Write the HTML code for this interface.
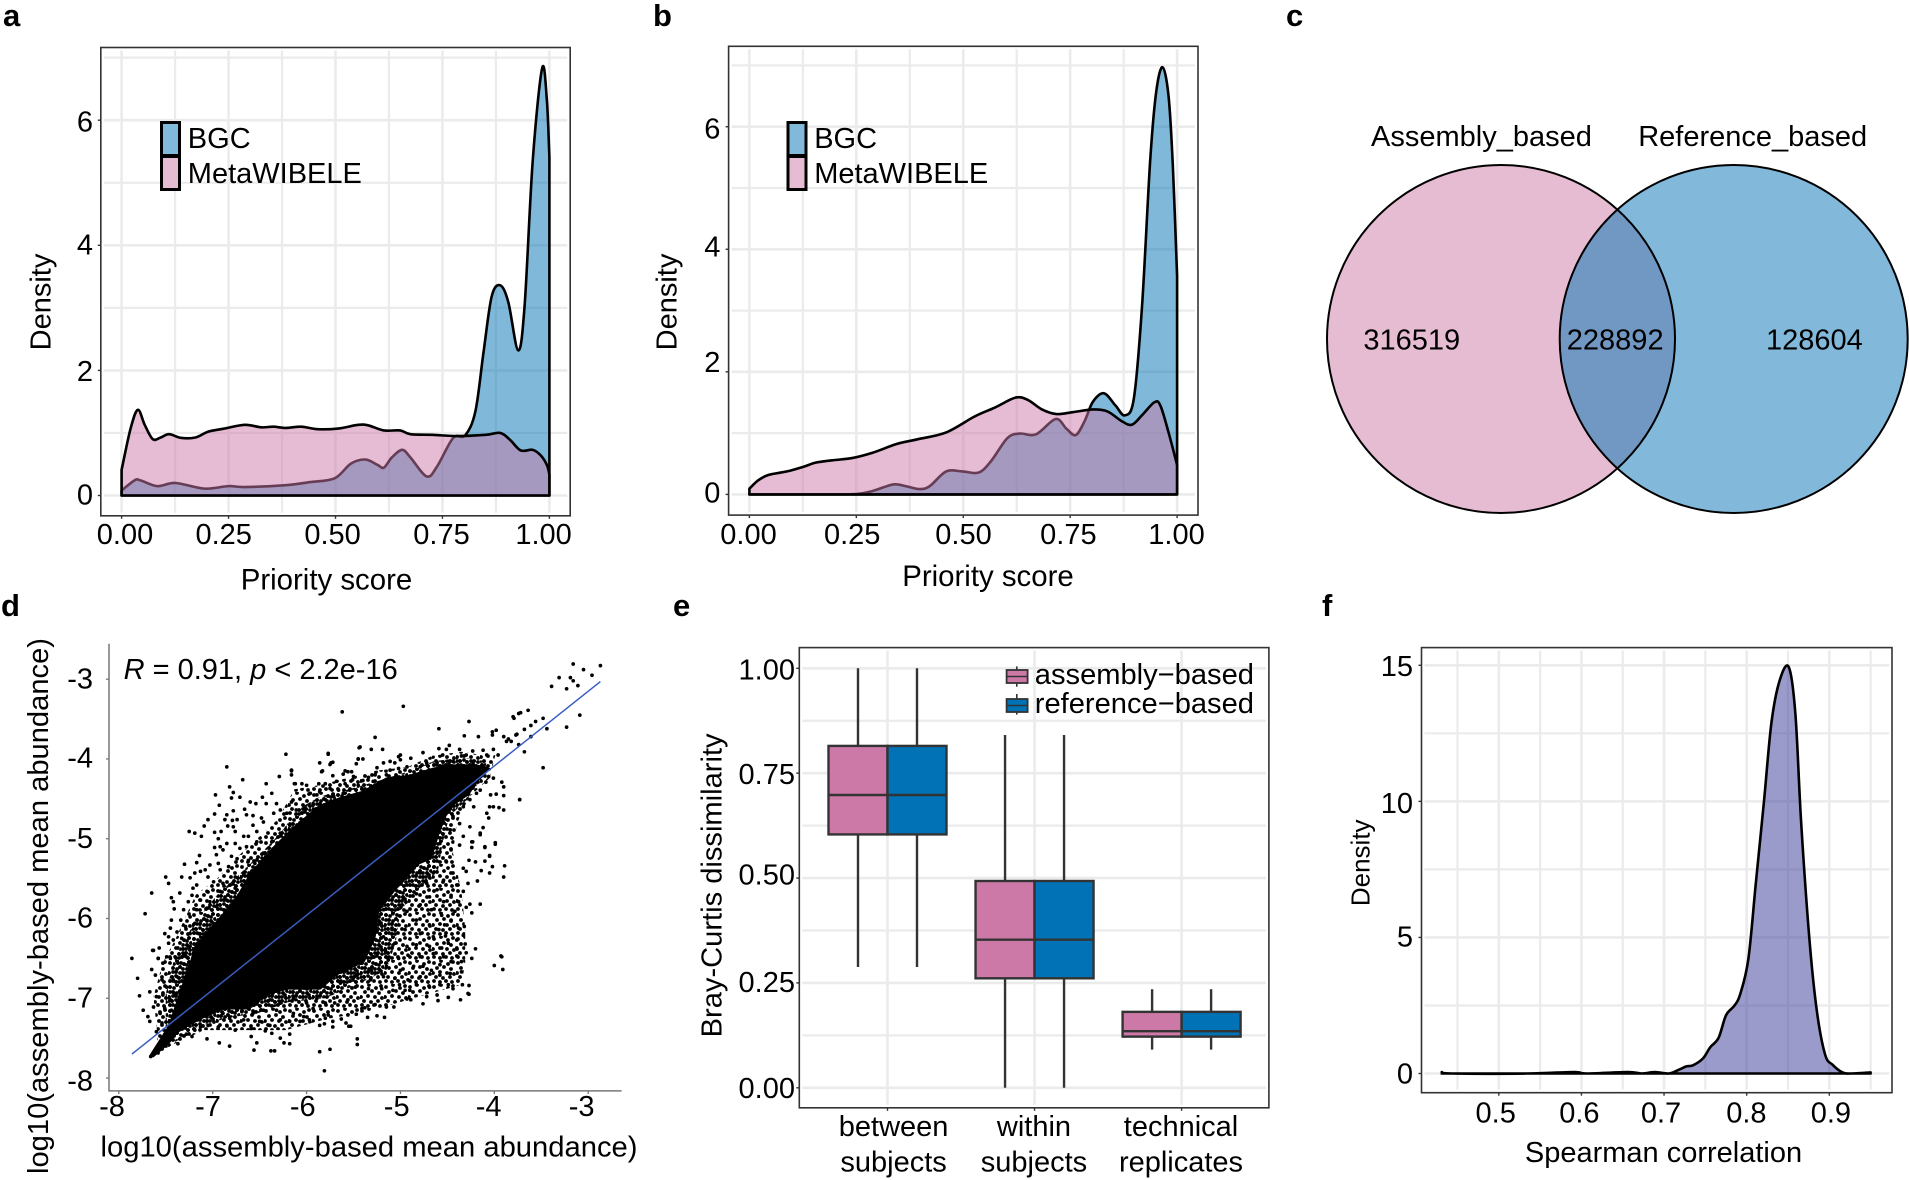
<!DOCTYPE html>
<html lang="en">
<head>
<meta charset="utf-8">
<title>Priority score, overlap and abundance figure</title>
<style>
  html,body{margin:0;padding:0;background:#fff;}
  #figure{display:block;width:1909px;height:1180px;}
  text{font-family:"Liberation Sans",sans-serif;fill:#000;font-size:29px;}
  .tag{font-weight:bold;font-size:31px;}
  .mid{text-anchor:middle;}
  .end{text-anchor:end;}
</style>
</head>
<body>
<svg id="figure" xmlns="http://www.w3.org/2000/svg" width="1909" height="1180" viewBox="0 0 1909 1180">
  <rect x="0" y="0" width="1909" height="1180" fill="#fff"/>
  <defs>
    <clipPath id="venn-clip"><ellipse cx="1501" cy="339" rx="174" ry="174"/></clipPath>
    <pattern id="speckle-sparse" patternUnits="userSpaceOnUse" width="24" height="24">
      <g fill="#000">
        <circle cx="2" cy="3" r="1.9"/><circle cx="9" cy="1" r="1.9"/><circle cx="16" cy="4" r="1.9"/><circle cx="21" cy="2" r="1.9"/><circle cx="5" cy="8" r="1.9"/><circle cx="12" cy="7" r="1.9"/><circle cx="19" cy="9" r="1.9"/><circle cx="1" cy="13" r="1.9"/><circle cx="8" cy="12" r="1.9"/><circle cx="15" cy="13" r="1.9"/><circle cx="22" cy="14" r="1.9"/><circle cx="4" cy="17" r="1.9"/><circle cx="11" cy="18" r="1.9"/><circle cx="18" cy="17" r="1.9"/><circle cx="2" cy="21" r="1.9"/><circle cx="8" cy="22" r="1.9"/><circle cx="14" cy="21" r="1.9"/><circle cx="20" cy="22" r="1.9"/>
      </g>
    </pattern>
    <pattern id="speckle-dense" patternUnits="userSpaceOnUse" width="24" height="24">
      <g fill="#000">
        <circle cx="2" cy="3" r="1.9"/><circle cx="9" cy="1" r="1.9"/><circle cx="16" cy="4" r="1.9"/><circle cx="21" cy="2" r="1.9"/><circle cx="5" cy="8" r="1.9"/><circle cx="12" cy="7" r="1.9"/><circle cx="19" cy="9" r="1.9"/><circle cx="1" cy="13" r="1.9"/><circle cx="8" cy="12" r="1.9"/><circle cx="15" cy="13" r="1.9"/><circle cx="22" cy="14" r="1.9"/><circle cx="4" cy="17" r="1.9"/><circle cx="11" cy="18" r="1.9"/><circle cx="18" cy="17" r="1.9"/><circle cx="2" cy="21" r="1.9"/><circle cx="8" cy="22" r="1.9"/><circle cx="14" cy="21" r="1.9"/><circle cx="20" cy="22" r="1.9"/>
        <circle cx="6" cy="4" r="1.9"/><circle cx="13" cy="3" r="1.9"/><circle cx="19" cy="5" r="1.9"/><circle cx="23" cy="7" r="1.9"/><circle cx="2" cy="8" r="1.9"/><circle cx="9" cy="9" r="1.9"/><circle cx="15" cy="9" r="1.9"/><circle cx="21" cy="11" r="1.9"/><circle cx="5" cy="12" r="1.9"/><circle cx="12" cy="13" r="1.9"/><circle cx="18" cy="13" r="1.9"/><circle cx="1" cy="17" r="1.9"/><circle cx="8" cy="16" r="1.9"/><circle cx="15" cy="17" r="1.9"/><circle cx="22" cy="18" r="1.9"/><circle cx="5" cy="21" r="1.9"/><circle cx="11" cy="22" r="1.9"/><circle cx="17" cy="20" r="1.9"/>
      </g>
    </pattern>
  </defs>

  <g id="panel-a"></g>
  <g id="panel-b"></g>
  <g id="panel-d"></g>
  <g id="panel-e"></g>
  <g id="panel-f"></g>

  <!-- panel tags -->
  <text class="tag" x="3" y="26">a</text>
  <text class="tag" x="653" y="26">b</text>
  <text class="tag" x="1286" y="26">c</text>
  <text class="tag" x="1" y="616">d</text>
  <text class="tag" x="673" y="616">e</text>
  <text class="tag" x="1322" y="616">f</text>

  <!-- panel a text -->
  <g>
    <text class="mid" x="125" y="544">0.00</text>
    <text class="mid" x="223.7" y="544">0.25</text>
    <text class="mid" x="332.6" y="544">0.50</text>
    <text class="mid" x="441.5" y="544">0.75</text>
    <text class="mid" x="543.6" y="544">1.00</text>
    <text class="end" x="93" y="131.3">6</text>
    <text class="end" x="93" y="254.5">4</text>
    <text class="end" x="93" y="380.8">2</text>
    <text class="end" x="93" y="504.4">0</text>
    <text class="mid" x="326.5" y="589.5" style="font-size:29.4px">Priority score</text>
    <text class="mid" transform="translate(50.5 302) rotate(-90)">Density</text>
    <rect x="161.5" y="122.5" width="18" height="33" fill="#80b9da" stroke="#000" stroke-width="3"/>
    <rect x="161.5" y="156.5" width="18" height="33" fill="#e6bcd3" stroke="#000" stroke-width="3"/>
    <text x="187.8" y="148">BGC</text>
    <text x="187.8" y="183">MetaWIBELE</text>
  </g>

  <!-- panel b text -->
  <g>
    <text class="mid" x="748.5" y="544">0.00</text>
    <text class="mid" x="852.2" y="544">0.25</text>
    <text class="mid" x="963.5" y="544">0.50</text>
    <text class="mid" x="1068.4" y="544">0.75</text>
    <text class="mid" x="1176.5" y="544">1.00</text>
    <text class="end" x="720.4" y="138.5">6</text>
    <text class="end" x="720.4" y="256.4">4</text>
    <text class="end" x="720.4" y="372">2</text>
    <text class="end" x="720.4" y="502.5">0</text>
    <text class="mid" x="988" y="586" style="font-size:29.4px">Priority score</text>
    <text class="mid" transform="translate(676.7 302) rotate(-90)">Density</text>
    <rect x="788" y="122.5" width="18" height="33" fill="#80b9da" stroke="#000" stroke-width="3"/>
    <rect x="788" y="156.5" width="18" height="33" fill="#e6bcd3" stroke="#000" stroke-width="3"/>
    <text x="814.2" y="148">BGC</text>
    <text x="814.2" y="183">MetaWIBELE</text>
  </g>

  <!-- panel c: venn -->
  <g>
    <ellipse cx="1501" cy="339" rx="174" ry="174" fill="#e6bcd3"/>
    <ellipse cx="1733.7" cy="339" rx="174" ry="174" fill="#82b8da"/>
    <ellipse cx="1733.7" cy="339" rx="174" ry="174" fill="#7197c3" clip-path="url(#venn-clip)"/>
    <ellipse cx="1501" cy="339" rx="174" ry="174" fill="none" stroke="#000" stroke-width="2"/>
    <ellipse cx="1733.7" cy="339" rx="174" ry="174" fill="none" stroke="#000" stroke-width="2"/>
    <text x="1371" y="146.2">Assembly_based</text>
    <text x="1638.2" y="146.2">Reference_based</text>
    <text x="1363.4" y="349.4">316519</text>
    <text x="1566.8" y="349.4">228892</text>
    <text x="1766" y="349.4">128604</text>
  </g>

  <!-- panel d text -->
  <g>
    <text class="mid" x="112" y="1116">-8</text>
    <text class="mid" x="208" y="1116">-7</text>
    <text class="mid" x="302.8" y="1116">-6</text>
    <text class="mid" x="396.7" y="1116">-5</text>
    <text class="mid" x="488.6" y="1116">-4</text>
    <text class="mid" x="581.6" y="1116">-3</text>
    <text class="end" x="93" y="688.6">-3</text>
    <text class="end" x="93" y="767.6">-4</text>
    <text class="end" x="93" y="847.8">-5</text>
    <text class="end" x="93" y="927.5">-6</text>
    <text class="end" x="93" y="1007.7">-7</text>
    <text class="end" x="93" y="1090.5">-8</text>
    <text x="100.5" y="1156.3" textLength="537" lengthAdjust="spacingAndGlyphs">log10(assembly-based mean abundance)</text>
    <text transform="translate(48 1174) rotate(-90)" textLength="536" lengthAdjust="spacingAndGlyphs">log10(assembly-based mean abundance)</text>
    <text x="123.6" y="679"><tspan font-style="italic">R</tspan> = 0.91, <tspan font-style="italic">p</tspan> &lt; 2.2e-16</text>
  </g>

  <!-- panel e text -->
  <g>
    <text class="end" x="795" y="679.6">1.00</text>
    <text class="end" x="795" y="783.8">0.75</text>
    <text class="end" x="795" y="884.3">0.50</text>
    <text class="end" x="795" y="991.9">0.25</text>
    <text class="end" x="795" y="1098">0.00</text>
    <text class="mid" x="893.6" y="1136">between</text>
    <text class="mid" x="893.6" y="1171.4">subjects</text>
    <text class="mid" x="1034" y="1136">within</text>
    <text class="mid" x="1034" y="1171.4">subjects</text>
    <text class="mid" x="1181" y="1136">technical</text>
    <text class="mid" x="1181" y="1171.4">replicates</text>
    <text class="mid" transform="translate(721.4 885.4) rotate(-90)" textLength="304" lengthAdjust="spacingAndGlyphs">Bray-Curtis dissimilarity</text>
  </g>

  <!-- panel f text -->
  <g>
    <text class="mid" x="1495.7" y="1122.5">0.5</text>
    <text class="mid" x="1579.4" y="1122.5">0.6</text>
    <text class="mid" x="1661" y="1122.5">0.7</text>
    <text class="mid" x="1746.4" y="1122.5">0.8</text>
    <text class="mid" x="1830.9" y="1122.5">0.9</text>
    <text class="end" x="1413" y="675.8">15</text>
    <text class="end" x="1413" y="812.8">10</text>
    <text class="end" x="1413" y="946.4">5</text>
    <text class="end" x="1413" y="1083.7">0</text>
    <text class="mid" x="1663.5" y="1162">Spearman correlation</text>
    <text class="mid" transform="translate(1369.5 862.8) rotate(-90)" style="font-size:26px">Density</text>
  </g>
</svg>

<script>
// ---------- panel a data ----------
var aBgcX=[0,.031,.045,.083,.126,.193,.25,.288,.384,.441,.498,.536,.57,.598,.613,.632,.656,.675,.713,.737,.775,.803,.827,.846,.865,.885,.904,.927,.942,.961,.983,.994,1];
var aBgcY=[.08,.245,.24,.15,.2,.11,.15,.135,.165,.215,.275,.51,.575,.49,.445,.61,.73,.61,.305,.46,.92,.96,1.345,2.29,3.18,3.36,3.09,2.32,3.03,5.35,6.83,6.33,5.41];
var aMetaX=[0,.021,.038,.054,.073,.092,.111,.14,.174,.202,.24,.288,.326,.355,.384,.42,.458,.506,.553,.577,.613,.651,.675,.727,.784,.851,.885,.908,.933,.961,.98,.994,1];
var aMetaY=[.41,1.07,1.37,1.13,.9,.93,.98,.92,.93,1.02,1.07,1.13,1.09,1.1,1.08,1.1,1.06,1.07,1.13,1.12,1.04,1.04,.98,.97,.95,.97,1,.89,.72,.73,.64,.49,.34];
// ---------- panel b data ----------
var bBgcX=[0,.174,.25,.288,.336,.364,.398,.422,.46,.498,.536,.565,.603,.632,.67,.716,.741,.763,.784,.803,.829,.856,.878,.899,.918,.937,.951,.966,.98,.99,1];
var bBgcY=[0,0,.006,.056,.162,.137,.087,.137,.375,.375,.356,.543,.918,.993,.98,1.23,1.074,.968,1.2,1.51,1.65,1.45,1.29,1.57,3.07,5.44,6.56,6.97,6.5,5.37,3.56];
var bMetaX=[0,.021,.045,.088,.126,.155,.193,.24,.288,.345,.393,.46,.527,.574,.622,.651,.684,.718,.756,.803,.837,.87,.894,.918,.947,.961,.98,1];
var bMetaY=[.094,.231,.318,.375,.45,.518,.556,.593,.68,.824,.899,1.011,1.273,1.417,1.579,1.542,1.386,1.311,1.342,1.386,1.354,1.198,1.136,1.292,1.504,1.448,1.011,.481];
// ---------- shared density axis ticks ----------
var densityMajorTicks=[0,2,4,6];
var densityMinorTicks=[1,3,5,7];
var scoreMajorTicks=[0,.25,.5,.75,1];
var scoreMinorTicks=[.125,.375,.625,.875];
// ---------- panel d data ----------
var dXTicks=[-8,-7,-6,-5,-4,-3];
var dYTicks=[-8,-7,-6,-5,-4,-3];
var fitLineX=[-7.86,-2.87];
var fitLineY=[-7.70,-3.03];
var sparseBandOutline=[[-7.59,-7.45],[-7.63,-6.98],[-7.53,-6.55],[-7.40,-6.27],[-7.31,-6.03],[-7.18,-5.70],[-6.96,-5.51],[-6.74,-5.23],[-6.48,-4.95],[-6.31,-4.76],[-6.13,-4.38],[-5.87,-4.33],[-5.57,-4.24],[-5.27,-4.15],[-4.92,-4.10],[-4.66,-3.96],[-4.35,-3.91],[-4.09,-3.96],[-3.98,-3.91],[-4.05,-4.24],[-4.27,-4.48],[-4.40,-4.81],[-4.44,-5.18],[-4.35,-5.66],[-4.31,-6.13],[-4.31,-6.55],[-4.35,-6.83],[-4.92,-7.02],[-5.35,-7.17],[-5.79,-7.26],[-6.22,-7.40],[-6.66,-7.40],[-7.09,-7.40],[-7.44,-7.59],[-7.59,-7.73]];
var denseBandOutline=[[-7.50,-7.40],[-7.50,-6.95],[-7.42,-6.55],[-7.30,-6.25],[-7.12,-5.95],[-6.95,-5.70],[-6.72,-5.45],[-6.50,-5.20],[-6.28,-4.93],[-6.08,-4.62],[-5.85,-4.47],[-5.55,-4.38],[-5.25,-4.28],[-4.95,-4.17],[-4.65,-4.03],[-4.35,-3.98],[-4.08,-4.03],[-4.12,-4.22],[-4.30,-4.52],[-4.48,-4.72],[-4.55,-5.05],[-4.60,-5.40],[-4.78,-5.60],[-5.00,-5.90],[-5.05,-6.30],[-5.15,-6.65],[-5.45,-6.82],[-5.80,-7.00],[-6.20,-7.05],[-6.50,-7.18],[-6.85,-7.25],[-7.15,-7.35],[-7.40,-7.55]];
var denseCoreOutline=[[-7.64,-7.71],[-7.45,-7.36],[-7.32,-6.90],[-7.21,-6.52],[-7.17,-6.36],[-6.92,-6.02],[-6.74,-5.77],[-6.57,-5.43],[-6.32,-5.10],[-6.10,-4.85],[-5.86,-4.61],[-5.64,-4.51],[-5.40,-4.43],[-5.14,-4.26],[-4.90,-4.23],[-4.65,-4.14],[-4.44,-4.10],[-4.19,-4.10],[-4.08,-4.13],[-4.19,-4.26],[-4.29,-4.43],[-4.44,-4.55],[-4.55,-4.73],[-4.61,-4.93],[-4.69,-5.23],[-4.82,-5.30],[-5.08,-5.64],[-5.25,-5.89],[-5.29,-6.23],[-5.40,-6.52],[-5.68,-6.68],[-5.86,-6.86],[-6.21,-6.86],[-6.42,-6.93],[-6.63,-7.11],[-6.89,-7.11],[-7.14,-7.24],[-7.38,-7.40],[-7.49,-7.56]];
var upperLeftPoints=[[-6.85,-4.10],[-6.29,-4.22],[-6.16,-4.14],[-6.16,-4.20],[-6.68,-4.26],[-6.82,-4.35],[-6.78,-4.42],[-6.97,-4.45],[-6.80,-4.49],[-6.71,-4.48],[-6.47,-4.48],[-6.43,-4.31],[-6.37,-4.43],[-6.12,-4.31],[-6.05,-4.31],[-6.93,-4.58],[-6.60,-4.54],[-6.66,-4.63],[-6.54,-4.56],[-6.43,-4.56],[-6.32,-4.56],[-6.16,-4.54],[-6.78,-4.65],[-6.98,-4.69],[-7.05,-4.76],[-6.85,-4.70],[-6.87,-4.76],[-7.09,-4.84],[-6.79,-4.77],[-6.74,-4.76],[-6.64,-4.70],[-6.57,-4.71],[-6.48,-4.74],[-6.35,-4.68],[-6.28,-4.64],[-6.21,-4.68],[-6.84,-4.84],[-6.78,-4.85],[-7.25,-4.91],[-7.19,-4.93],[-6.98,-4.92],[-6.91,-4.91],[-6.76,-4.91],[-7.12,-4.97],[-6.94,-5.00],[-6.67,-4.97],[-6.62,-4.97],[-6.57,-4.83],[-6.46,-4.79],[-6.53,-4.91],[-6.76,-5.06],[-6.85,-5.06],[-6.92,-5.10],[-6.98,-5.11],[-7.14,-5.21],[-6.89,-5.14],[-6.71,-5.12],[-6.64,-5.10],[-6.53,-5.04],[-6.96,-5.20],[-6.80,-5.22],[-7.17,-5.30],[-7.30,-5.32],[-7.03,-5.33],[-6.94,-5.31],[-6.74,-5.25],[-6.62,-5.27],[-7.13,-5.41],[-7.19,-5.43],[-7.08,-5.39],[-6.92,-5.39],[-6.83,-5.35],[-7.50,-5.48],[-7.33,-5.48],[-7.24,-5.49],[-7.05,-5.48],[-6.76,-5.48],[-7.47,-5.56],[-7.17,-5.58],[-6.99,-5.54],[-6.89,-5.56],[-7.65,-5.68],[-7.35,-5.68],[-7.21,-5.62],[-7.06,-5.66],[-6.92,-5.66],[-7.44,-5.74],[-7.42,-5.79],[-7.22,-5.71],[-7.13,-5.77],[-7.03,-5.79],[-7.41,-5.88],[-7.26,-5.79],[-7.31,-5.89],[-7.72,-5.94],[-7.17,-5.89],[-7.06,-5.87],[-7.34,-6.02],[-7.24,-5.98],[-7.44,-6.02],[-7.45,-6.12],[-7.29,-6.10],[-7.19,-6.06],[-7.51,-6.19],[-7.38,-6.17],[-7.24,-6.19],[-7.47,-6.23],[-7.33,-6.25],[-7.42,-6.27],[-7.57,-6.37],[-7.64,-6.40],[-7.47,-6.31],[-7.37,-6.37],[-7.86,-6.50],[-7.58,-6.50],[-7.49,-6.48],[-7.40,-6.48],[-5.96,-4.43],[-5.93,-4.56],[-6.02,-4.62],[-5.89,-4.45],[-5.95,-4.70],[-6.11,-4.64],[-6.05,-4.77],[-6.18,-4.83],[-6.28,-4.93],[-6.37,-5.04],[-6.46,-5.18],[-6.55,-5.31],[-6.67,-5.45],[-6.76,-5.62],[-6.85,-5.77],[-6.96,-5.85],[-7.06,-6.02],[-7.15,-6.19],[-7.24,-6.35],[-7.28,-6.48]];
var lowerLeftPoints=[[-7.80,-6.75],[-7.78,-6.97],[-7.74,-7.15],[-7.69,-7.23],[-7.67,-7.29],[-7.63,-6.40],[-7.58,-6.50],[-7.65,-6.64],[-7.61,-6.71],[-7.53,-6.56],[-7.45,-6.50],[-7.54,-6.77],[-7.67,-6.92],[-7.60,-6.98],[-7.63,-7.11],[-7.56,-7.19],[-7.49,-6.86],[-7.42,-6.77],[-7.53,-6.96],[-7.45,-7.02],[-7.38,-6.73],[-7.40,-6.94],[-7.51,-7.13],[-7.44,-7.15],[-7.54,-7.31],[-7.60,-7.42],[-7.37,-6.56],[-7.31,-6.46],[-7.66,-7.73],[-7.60,-7.67],[-7.54,-7.63],[-7.49,-7.54],[-7.45,-7.48],[-7.37,-7.57],[-7.28,-7.45],[-7.22,-7.48],[-7.06,-7.51],[-6.93,-7.56],[-6.82,-7.60],[-7.05,-7.34],[-6.94,-7.36],[-6.85,-7.34],[-6.76,-7.40],[-7.13,-7.36],[-7.19,-7.40],[-6.59,-7.48],[-6.53,-7.56],[-6.56,-7.65],[-6.38,-7.66],[-6.34,-7.66],[-6.28,-7.50],[-6.24,-7.56],[-6.18,-7.57],[-6.18,-7.45],[-6.37,-7.44],[-6.44,-7.41],[-6.67,-7.27],[-6.59,-7.38],[-6.82,-7.25],[-6.69,-7.17],[-6.89,-7.19],[-6.50,-7.29],[-6.39,-7.34],[-6.28,-7.27],[-6.18,-7.29],[-6.07,-7.29],[-6.03,-7.23],[-5.97,-7.27],[-5.86,-7.34],[-5.86,-7.67],[-6.14,-7.19],[-6.32,-7.15],[-6.46,-7.15],[-6.57,-7.19],[-5.93,-7.13],[-6.00,-7.06],[-6.14,-7.00],[-6.28,-7.06],[-6.39,-7.02],[-5.89,-7.00],[-5.81,-7.91],[-5.75,-7.64],[-5.46,-7.51],[-5.46,-7.58],[-5.55,-7.35]];
var lowerRightPoints=[[-4.15,-4.95],[-3.99,-5.07],[-4.10,-5.11],[-4.23,-5.04],[-4.24,-5.11],[-4.05,-5.21],[-4.27,-5.27],[-4.20,-5.29],[-4.10,-5.28],[-3.89,-5.34],[-4.02,-5.35],[-4.14,-5.40],[-4.05,-5.43],[-3.90,-5.48],[-4.18,-5.53],[-4.30,-5.41],[-4.33,-5.37],[-4.28,-5.56],[-4.44,-5.43],[-4.51,-5.29],[-4.46,-5.14],[-4.37,-5.08],[-4.58,-5.06],[-4.61,-5.18],[-4.54,-5.52],[-4.40,-5.58],[-4.65,-5.43],[-4.33,-5.66],[-4.46,-5.71],[-4.61,-5.64],[-4.72,-5.56],[-4.79,-5.43],[-4.26,-5.82],[-4.15,-5.82],[-4.30,-5.86],[-4.24,-5.93],[-4.38,-5.79],[-4.54,-5.79],[-4.69,-5.73],[-4.83,-5.69],[-4.93,-5.58],[-4.42,-5.91],[-4.56,-5.96],[-4.67,-5.89],[-4.79,-5.83],[-4.97,-5.75],[-5.09,-5.66],[-4.46,-6.02],[-4.53,-6.08],[-4.32,-6.10],[-4.38,-6.12],[-4.69,-6.08],[-4.83,-6.02],[-4.93,-5.91],[-5.08,-5.94],[-5.18,-5.89],[-4.59,-6.14],[-4.52,-6.22],[-4.33,-6.21],[-4.40,-6.27],[-4.65,-6.23],[-4.79,-6.19],[-4.95,-6.14],[-5.09,-6.14],[-5.22,-6.06],[-5.18,-6.23],[-4.49,-6.31],[-4.56,-6.37],[-4.31,-6.32],[-4.40,-6.37],[-4.69,-6.35],[-4.83,-6.33],[-4.93,-6.35],[-5.06,-6.31],[-5.16,-6.40],[-4.20,-6.38],[-4.30,-6.43],[-4.40,-6.47],[-4.54,-6.48],[-4.65,-6.44],[-4.79,-6.48],[-4.92,-6.46],[-5.02,-6.50],[-5.13,-6.52],[-5.29,-6.48],[-3.92,-6.48],[-4.24,-6.50],[-4.35,-6.54],[-4.46,-6.54],[-4.58,-6.58],[-4.00,-6.59],[-3.91,-6.64],[-4.67,-6.65],[-4.76,-6.60],[-4.86,-6.60],[-5.00,-6.65],[-5.15,-6.60],[-5.31,-6.65],[-5.43,-6.56],[-4.35,-6.67],[-4.47,-6.69],[-4.58,-6.71],[-4.79,-6.73],[-4.92,-6.77],[-5.06,-6.75],[-5.18,-6.73],[-5.32,-6.77],[-5.47,-6.71],[-5.57,-6.65],[-4.27,-6.84],[-4.34,-6.83],[-4.44,-6.88],[-4.49,-6.83],[-4.58,-6.83],[-4.69,-6.86],[-4.83,-6.83],[-4.90,-6.90],[-4.95,-6.90],[-5.01,-6.83],[-5.08,-6.90],[-5.20,-6.88],[-5.34,-6.88],[-5.48,-6.86],[-5.64,-6.81],[-4.28,-6.94],[-4.49,-6.99],[-4.61,-6.96],[-4.72,-6.98],[-4.36,-7.02],[-4.60,-7.03],[-4.76,-7.07],[-4.93,-7.01],[-4.89,-7.02],[-5.07,-7.11],[-5.15,-7.11],[-5.27,-7.08],[-5.38,-7.12],[-5.41,-7.13],[-5.56,-7.02],[-5.70,-7.06],[-5.80,-7.06],[-5.17,-7.24],[-5.25,-7.22],[-5.35,-7.24],[-5.47,-7.20],[-5.56,-7.21],[-5.63,-7.26],[-5.58,-7.31],[-5.53,-7.35],[-5.72,-7.29],[-5.72,-7.36],[-5.80,-7.25],[-5.77,-7.21],[-5.81,-7.32],[-4.27,-6.95],[-3.93,-6.47]];
var upperRightPoints=[[-5.62,-3.41],[-4.97,-3.34],[-4.27,-3.53],[-4.59,-3.62],[-3.80,-3.47],[-3.74,-3.43],[-5.27,-3.73],[-4.32,-3.71],[-4.17,-3.72],[-4.02,-3.66],[-3.98,-3.64],[-3.90,-3.72],[-4.02,-3.70],[-3.76,-3.69],[-3.87,-3.78],[-3.82,-3.78],[-5.43,-3.85],[-5.31,-3.88],[-5.19,-3.88],[-4.59,-3.87],[-4.48,-3.83],[-4.51,-3.88],[-4.76,-3.92],[-4.37,-3.88],[-4.23,-3.90],[-4.12,-3.89],[-4.01,-3.88],[-5.77,-3.94],[-5.00,-3.95],[-5.02,-3.97],[-4.55,-3.95],[-4.30,-3.95],[-4.35,-3.96],[-4.08,-3.95],[-3.96,-3.95],[-5.45,-4.00],[-5.40,-4.00],[-4.89,-3.99],[-5.47,-4.06],[-5.18,-4.05],[-5.11,-4.03],[-5.06,-4.05],[-5.72,-4.04],[-5.75,-4.07],[-5.86,-4.05],[-5.25,-4.11],[-5.00,-4.01],[-4.72,-4.05],[-4.61,-4.05],[-4.44,-4.03],[-5.84,-4.16],[-5.56,-4.16],[-5.52,-4.16],[-5.11,-4.14],[-5.02,-4.12],[-4.93,-4.10],[-4.79,-4.10],[-5.72,-4.21],[-5.61,-4.19],[-5.50,-4.22],[-5.34,-4.23],[-5.27,-4.20],[-5.15,-4.20],[-5.51,-4.26],[-5.40,-4.27],[-5.29,-4.28],[-5.68,-4.28],[-5.80,-4.31],[-5.59,-4.31],[-5.45,-4.33],[-5.75,-4.37],[-5.66,-4.39],[-5.54,-4.39],[-5.41,-4.37],[-5.86,-4.41],[-5.61,-4.43],[-5.47,-4.45],[-5.71,-4.47],[-5.80,-4.51],[-5.57,-4.53],[-5.66,-4.55],[-5.75,-4.60],[-5.50,-4.56],[-4.06,-4.22],[-4.01,-4.24],[-3.92,-4.29],[-3.90,-4.35],[-4.09,-4.29],[-4.15,-4.39],[-3.73,-4.51],[-4.04,-4.45],[-3.98,-4.44],[-3.90,-4.46],[-4.19,-4.43],[-4.26,-4.51],[-4.05,-4.60],[-4.01,-4.60],[-3.95,-4.61],[-3.90,-4.64],[-4.08,-4.68],[-4.06,-4.74],[-4.22,-4.60],[-4.33,-4.60],[-4.12,-4.86],[-4.15,-4.93],[-4.26,-4.85],[-4.37,-4.81],[-4.44,-4.72],[-4.47,-4.89],[-4.33,-4.97],[-4.24,-5.04],[-3.99,-5.05],[-4.10,-5.10],[-4.05,-5.22],[-3.16,-2.81],[-2.87,-2.83],[-3.05,-2.88],[-2.96,-2.95],[-3.31,-2.98],[-3.19,-2.98],[-3.16,-3.02],[-3.39,-3.09],[-3.23,-3.12],[-3.11,-3.08],[-3.09,-3.45],[-3.23,-3.60],[-3.48,-4.11],[-3.72,-3.42],[-3.64,-3.39],[-3.79,-3.49],[-3.48,-3.49],[-3.56,-3.53],[-3.61,-3.58],[-3.44,-3.62],[-3.68,-3.63],[-3.77,-3.70],[-3.61,-3.72],[-3.85,-3.75],[-3.68,-3.91],[-3.74,-3.82],[-3.73,-4.51],[-6.22,-3.94],[-5.77,-3.93],[-5.74,-4.05],[-5.83,-4.15],[-5.59,-4.15],[-5.44,-3.86],[-5.45,-4.00],[-6.16,-4.15],[-6.13,-4.31],[-6.00,-4.33],[-5.87,-4.31]];
// ---------- panel e data ----------
var boxCategories=["between subjects","within subjects","technical replicates"];
var boxYTicks=[0,.25,.5,.75,1];
var boxYMinorTicks=[.125,.375,.625,.875];
var assemblyWhiskerLow=[.288,0,.091];
var assemblyQ1=[.604,.261,.122];
var assemblyMedian=[.698,.353,.135];
var assemblyQ3=[.815,.493,.181];
var assemblyWhiskerHigh=[1,.841,.235];
var referenceWhiskerLow=[.288,0,.091];
var referenceQ1=[.604,.261,.122];
var referenceMedian=[.698,.353,.135];
var referenceQ3=[.815,.493,.181];
var referenceWhiskerHigh=[1,.841,.235];
// ---------- panel f data ----------
var fMajorXTicks=[.5,.6,.7,.8,.9];
var fMinorXTicks=[.45,.55,.65,.75,.85,.95];
var fMajorYTicks=[0,5,10,15];
var fMinorYTicks=[2.5,7.5,12.5];
var spearmanX=[.431,.443,.534,.591,.606,.656,.673,.689,.706,.718,.727,.735,.747,.756,.766,.775,.785,.792,.802,.811,.821,.83,.84,.851,.859,.866,.876,.885,.895,.904,.916,.926,.95];
var spearmanY=[.055,0,0,.055,0,.055,0,.055,0,.14,.26,.3,.55,.97,1.31,2.14,2.49,2.9,4.2,6.97,10.02,12.9,14.45,14.93,13.2,9.19,4.91,2.28,.69,.32,.04,0,.04];

var SVG_NS="http://www.w3.org/2000/svg";
function scale(d0,d1,p0,p1){return function(v){return p0+(v-d0)*(p1-p0)/(d1-d0);};}
function make(parent,tag,attrs){
  var el=document.createElementNS(SVG_NS,tag);
  for(var k in attrs){el.setAttribute(k,attrs[k]);}
  parent.appendChild(el);
  return el;
}
function smoothArea(xs,ys,sx,sy){
  var pts=xs.map(function(x,i){return [sx(x),sy(ys[i])];});
  var d="M"+pts[0][0].toFixed(2)+" "+sy(0).toFixed(2)+" L"+pts[0][0].toFixed(2)+" "+pts[0][1].toFixed(2);
  for(var i=0;i<pts.length-1;i++){
    var p0=pts[Math.max(i-1,0)],p1=pts[i],p2=pts[i+1],p3=pts[Math.min(i+2,pts.length-1)];
    var c1x=p1[0]+(p2[0]-p0[0])/6,c1y=p1[1]+(p2[1]-p0[1])/6;
    var c2x=p2[0]-(p3[0]-p1[0])/6,c2y=p2[1]-(p3[1]-p1[1])/6;
    d+=" C"+c1x.toFixed(2)+" "+c1y.toFixed(2)+" "+c2x.toFixed(2)+" "+c2y.toFixed(2)+" "+p2[0].toFixed(2)+" "+p2[1].toFixed(2);
  }
  d+=" L"+pts[pts.length-1][0].toFixed(2)+" "+sy(0).toFixed(2)+" Z";
  return d;
}
function drawGrid(g,box,sx,sy,majX,minX,majY,minY){
  minY.forEach(function(v){
    var l=make(g,"line",{x1:box.x+3,x2:box.x2-3,y1:sy(v),y2:sy(v),stroke:"#ebebeb","stroke-width":2.2});
    
    
  });
  minX.forEach(function(v){
    var l=make(g,"line",{x1:sx(v),x2:sx(v),y1:box.y+3,y2:box.y2-3,stroke:"#ebebeb","stroke-width":2.2});
    
    
  });
  majY.forEach(function(v){
    var l=make(g,"line",{x1:box.x+3,x2:box.x2-3,y1:sy(v),y2:sy(v),stroke:"#ebebeb","stroke-width":2.6});
    
    
    var t=make(g,"line",{x1:box.x-3,x2:box.x,y1:sy(v),y2:sy(v),stroke:"#333","stroke-width":1.4});
    
    
  });
  majX.forEach(function(v){
    var l=make(g,"line",{x1:sx(v),x2:sx(v),y1:box.y+3,y2:box.y2-3,stroke:"#ebebeb","stroke-width":2.6});
    
    
    var t=make(g,"line",{x1:sx(v),x2:sx(v),y1:box.y2,y2:box.y2+3,stroke:"#333","stroke-width":1.4});
    
    
  });
}
function drawBorder(g,box){
  var r=make(g,"rect",{x:box.x,y:box.y,width:box.x2-box.x,height:box.y2-box.y,fill:"none",stroke:"#333","stroke-width":1.6});
  
  
}
function drawDensity(g,xs,ys,sx,sy,color,name){
  var p=make(g,"path",{d:smoothArea(xs,ys,sx,sy),fill:color,"fill-opacity":.5,stroke:"#000","stroke-width":2.6,"stroke-linejoin":"round"});
  
  
}

// panel a
(function(){
  var g=document.getElementById("panel-a");
  var box={x:100.8,x2:570.2,y:47.5,y2:515.8};
  var sx=scale(0,1,121.6,549.4),sy=scale(0,6,495.5,120.2);
  drawGrid(g,box,sx,sy,scoreMajorTicks,scoreMinorTicks,densityMajorTicks,densityMinorTicks);
  drawDensity(g,aBgcX,aBgcY,sx,sy,"#0072B2","a-density-bgc");
  drawDensity(g,aMetaX,aMetaY,sx,sy,"#CC79A7","a-density-metawibele");
  drawBorder(g,box);
})();
// panel b
(function(){
  var g=document.getElementById("panel-b");
  var box={x:728.6,x2:1198,y:46.3,y2:515.1};
  var sx=scale(0,1,749.4,1177.1),sy=scale(0,6,494.4,126.7);
  drawGrid(g,box,sx,sy,scoreMajorTicks,scoreMinorTicks,densityMajorTicks,densityMinorTicks);
  drawDensity(g,bBgcX,bBgcY,sx,sy,"#0072B2","b-density-bgc");
  drawDensity(g,bMetaX,bMetaY,sx,sy,"#CC79A7","b-density-metawibele");
  drawBorder(g,box);
})();
// panel d
(function(){
  var g=document.getElementById("panel-d");
  var sx=scale(-8,-3,118.8,588.2),sy=scale(-8,-3,1078,679.2);
  var ax=make(g,"path",{d:"M109 643.8 L109 1090.9 L621.6 1090.9",fill:"none",stroke:"#777","stroke-width":1.5});
  
  
  dXTicks.forEach(function(v){
    var t=make(g,"line",{x1:sx(v),x2:sx(v),y1:1090.9,y2:1094,stroke:"#777","stroke-width":1.3});
    
    
  });
  dYTicks.forEach(function(v){
    var t=make(g,"line",{x1:106,x2:109,y1:sy(v),y2:sy(v),stroke:"#777","stroke-width":1.3});
    
    
  });
  function outlinePoints(list){
    return list.map(function(p){return sx(p[0]).toFixed(1)+","+sy(p[1]).toFixed(1);}).join(" ");
  }
  var sparse=make(g,"polygon",{points:outlinePoints(sparseBandOutline),fill:"url(#speckle-sparse)"});
  
  
  var dense=make(g,"polygon",{points:outlinePoints(denseBandOutline),fill:"url(#speckle-dense)"});
  
  
  var core=make(g,"polygon",{points:outlinePoints(denseCoreOutline),fill:"#000",stroke:"#000","stroke-width":5,"stroke-linejoin":"round"});
  
  
  [upperLeftPoints,lowerLeftPoints,lowerRightPoints,upperRightPoints].forEach(function(list){
    list.forEach(function(p){
      var c=make(g,"circle",{cx:sx(p[0]).toFixed(1),cy:sy(p[1]).toFixed(1),r:1.85,fill:"#000"});
      
      
    });
  });
  var fit=make(g,"line",{x1:sx(fitLineX[0]),y1:sy(fitLineY[0]),x2:sx(fitLineX[1]),y2:sy(fitLineY[1]),stroke:"#3a5cc0","stroke-width":1.5});
  
  
})();
// panel e
(function(){
  var g=document.getElementById("panel-e");
  var box={x:799.3,x2:1268.9,y:647.6,y2:1107.8};
  var sy=scale(0,1,1087.8,668.3);
  var sx=scale(0,2,887.5,1181.6);
  var idx=boxCategories.map(function(c,i){return i;});
  drawGrid(g,box,sx,sy,idx,[],boxYTicks,boxYMinorTicks);
  var half=59;
  function drawSeries(color,low,q1,med,q3,high,left,name){
    boxCategories.forEach(function(cat,i){
      var x0=left?sx(i)-half:sx(i),cx=x0+half/2;
      var wh=make(g,"line",{x1:cx,x2:cx,y1:sy(high[i]),y2:sy(low[i]),stroke:"#333","stroke-width":2.4});
      
      
      var r=make(g,"rect",{x:x0,y:sy(q3[i]),width:half,height:sy(q1[i])-sy(q3[i]),fill:color,stroke:"#333","stroke-width":2.4});
      
      
      var m=make(g,"line",{x1:x0,x2:x0+half,y1:sy(med[i]),y2:sy(med[i]),stroke:"#333","stroke-width":2.4});
      
      
    });
  }
  drawSeries("#cc79a7",assemblyWhiskerLow,assemblyQ1,assemblyMedian,assemblyQ3,assemblyWhiskerHigh,true,"assembly");
  drawSeries("#0072b5",referenceWhiskerLow,referenceQ1,referenceMedian,referenceQ3,referenceWhiskerHigh,false,"reference");
  drawBorder(g,box);
  // legend
  var keyRows=[{c:"#cc79a7",y:670,w0:666.4,w1:686.7,txt:"assembly\u2212based",ty:684,n:"assembly"},{c:"#0072b5",y:699,w0:694,w1:714.6,txt:"reference\u2212based",ty:713,n:"reference"}];
  keyRows.forEach(function(k){
    var w=make(g,"line",{x1:1016.8,x2:1016.8,y1:k.w0,y2:k.w1,stroke:"#333","stroke-width":1.6});
    
    
    var r=make(g,"rect",{x:1006.6,y:k.y,width:21,height:13,fill:k.c,stroke:"#333","stroke-width":1.8});
    
    
    var m=make(g,"line",{x1:1006.6,x2:1027.6,y1:k.y+6.5,y2:k.y+6.5,stroke:"#333","stroke-width":1.6});
    
    
    var t=make(g,"text",{x:1034.8,y:k.ty,style:"font-size:29.1px"});
    t.textContent=k.txt;
    
    
  });
})();
// panel f
(function(){
  var g=document.getElementById("panel-f");
  var box={x:1421.5,x2:1892,y:647.6,y2:1092.7};
  var sx=scale(.5,.9,1498.8,1829.3),sy=scale(0,15,1073.5,665.3);
  drawGrid(g,box,sx,sy,fMajorXTicks,fMinorXTicks,fMajorYTicks,fMinorYTicks);
  drawDensity(g,spearmanX,spearmanY,sx,sy,"#383898","spearman-density");
  drawBorder(g,box);
})();
</script>
</body>
</html>
